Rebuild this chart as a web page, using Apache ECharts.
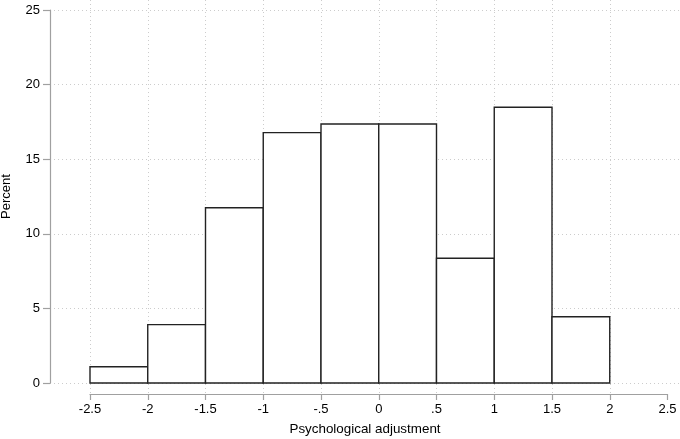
<!DOCTYPE html>
<html>
<head>
<meta charset="utf-8">
<script src="https://cdn.jsdelivr.net/npm/echarts@6/dist/echarts.min.js"></script>
<style>html,body{margin:0;padding:0;background:#fff}#c{width:680px;height:439px}</style>
</head>
<body>
<div id="c"></div>
<script>
var binStarts = [-2.5, -2, -1.5, -1, -0.5, 0, 0.5, 1, 1.5];
var binWidth = 0.5;
var percents = [1.09, 3.91, 11.75, 16.78, 17.36, 17.36, 8.36, 18.48, 4.44];
var xTitle = 'Psychological adjustment';
var yTitle = 'Percent';

var chart = echarts.init(document.getElementById('c'), null, {renderer: 'canvas'});
var font = 'Liberation Sans, Arial, Helvetica, sans-serif';
var data = binStarts.map(function (s, i) { return [s, s + binWidth, percents[i]]; });

chart.setOption({
  animation: false,
  backgroundColor: '#fff',
  grid: [
    {left: 50, right: 0, top: 10, bottom: 56, outerBoundsMode: 'none', containLabel: false},
    {left: 90, width: 577.5, top: 0, bottom: 45, outerBoundsMode: 'none', containLabel: false}
  ],
  xAxis: [
    {gridIndex: 0, type: 'value', min: -2.8463, max: 2.6082, show: true,
     axisLine: {show: false}, axisTick: {show: false}, axisLabel: {show: false}, splitLine: {show: false},
     name: xTitle, nameLocation: 'middle', nameGap: 40,
     nameTextStyle: {color: '#000', fontSize: 13.4, fontFamily: font}
    },
    {gridIndex: 1, type: 'value', min: -2.5, max: 2.5, interval: 0.5,
     axisLine: {show: true, onZero: false, lineStyle: {color: '#a0a0a0', width: 1.2}},
     axisTick: {show: true, length: 6, lineStyle: {color: '#a0a0a0', width: 1.2}},
     axisLabel: {color: '#000', fontSize: 13, fontFamily: font, margin: 9,
       formatter: function (v) { var s = String(Math.round(v * 10) / 10); return s.replace(/^(-?)0\./, '$1.'); }},
     splitLine: {show: true, showMaxLine: false, lineStyle: {color: '#cccccc', type: [1, 3], width: 1}}
    }
  ],
  yAxis: [
    {gridIndex: 0, type: 'value', min: 0, max: 25, interval: 5,
     axisLine: {show: true, onZero: false, lineStyle: {color: '#a0a0a0', width: 1.2}},
     axisTick: {show: true, length: 7, lineStyle: {color: '#a0a0a0', width: 1.2}},
     axisLabel: {color: '#000', fontSize: 13, fontFamily: font, margin: 10},
     splitLine: {show: true, lineStyle: {color: '#cccccc', type: [1, 3], width: 1}},
     name: yTitle, nameLocation: 'middle', nameGap: 37, nameRotate: 90,
     nameTextStyle: {color: '#000', fontSize: 13, fontFamily: font}
    },
    {gridIndex: 1, type: 'value', min: 0, max: 1, show: false}
  ],
  series: [{
    type: 'custom',
    xAxisIndex: 0, yAxisIndex: 0,
    data: data,
    z: 5,
    renderItem: function (params, api) {
      var p0 = api.coord([api.value(0), api.value(2)]);
      var p1 = api.coord([api.value(1), 0]);
      return {
        type: 'rect',
        shape: {x: p0[0], y: p0[1], width: p1[0] - p0[0], height: p1[1] - p0[1]},
        style: {fill: '#fff', stroke: '#222', lineWidth: 1.4}
      };
    }
  }]
});
</script>
</body>
</html>
